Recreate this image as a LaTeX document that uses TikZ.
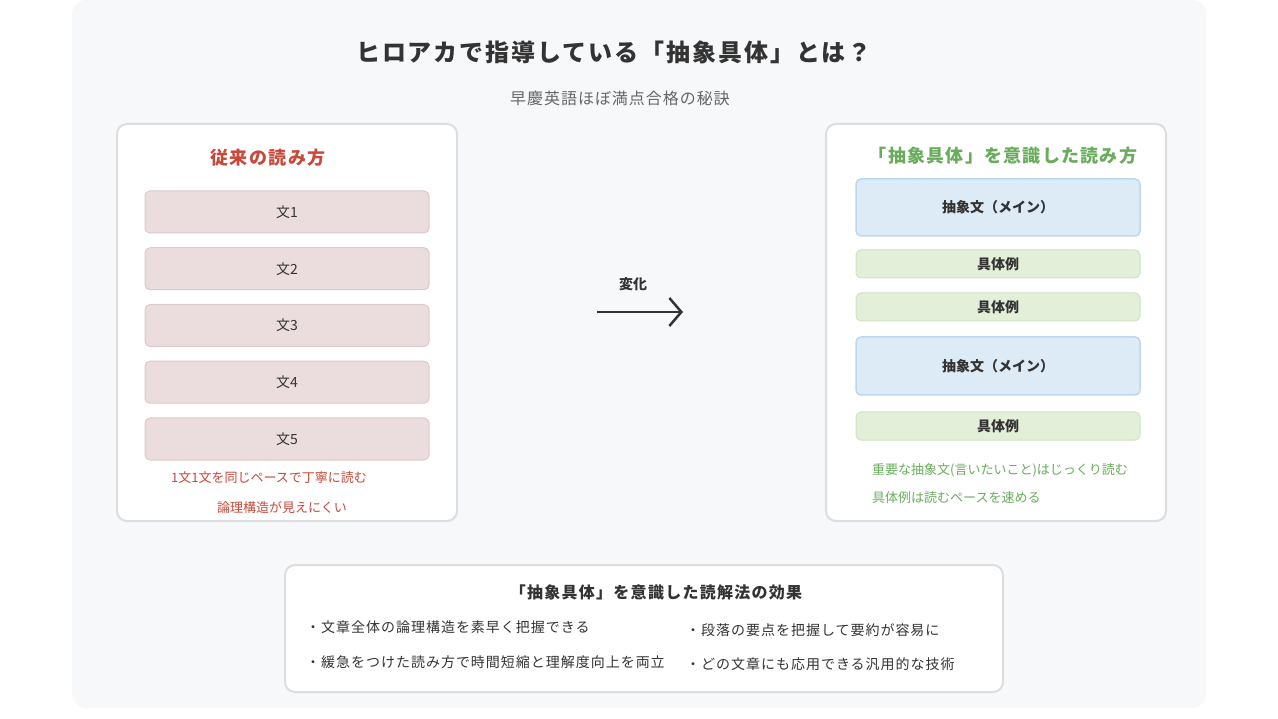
\documentclass[tikz,border=0pt]{standalone}
\usepackage{fontspec}
\setmainfont{Noto Sans CJK JP}
\usepackage{xcolor}
\usetikzlibrary{positioning,arrows.meta}
\definecolor{PageGray}{HTML}{F7F8FA}
\definecolor{PanelLine}{HTML}{DCDDDF}
\definecolor{TextDark}{HTML}{333333}
\definecolor{TextGray}{HTML}{666666}
\definecolor{OldRed}{HTML}{C9483A}
\definecolor{OldFill}{HTML}{EBDDDE}
\definecolor{OldLine}{HTML}{DCC9CB}
\definecolor{NewGreen}{HTML}{69AD5C}
\definecolor{AbsFill}{HTML}{DDEBF6}
\definecolor{AbsLine}{HTML}{BCD8EE}
\definecolor{ConFill}{HTML}{E3EFD9}
\definecolor{ConLine}{HTML}{CFE3C1}

\tikzset{
  panel/.style={draw=PanelLine, line width=2pt, fill=white, rounded corners=10pt},
  oldbox/.style={draw=OldLine, line width=1pt, fill=OldFill, rounded corners=5pt,
                 minimum width=284pt, minimum height=42pt, text=TextDark,
                 font=\fontsize{14pt}{16pt}\selectfont},
  absbox/.style={draw=AbsLine, line width=1.5pt, fill=AbsFill, rounded corners=5pt,
                 minimum width=284pt, minimum height=57pt, text=TextDark,
                 font=\fontsize{14pt}{16pt}\selectfont\bfseries},
  conbox/.style={draw=ConLine, line width=1pt, fill=ConFill, rounded corners=5pt,
                 minimum width=284pt, minimum height=28pt, text=TextDark,
                 font=\fontsize{14pt}{16pt}\selectfont\bfseries},
  note/.style={inner sep=0pt, font=\fontsize{13pt}{15pt}\selectfont},
  bullet/.style={anchor=west, inner sep=0pt, text=TextDark,
                 font=\fontsize{14pt}{16pt}\selectfont\addfontfeatures{LetterSpace=7}}
}

\begin{document}
\begin{tikzpicture}[x=1pt, y=-1pt]
  \useasboundingbox (0,0) rectangle (1278,719);
  \fill[PageGray, rounded corners=14pt] (72,0) rectangle (1206,708);

  % heading
  \node (title) at (614,52) [text=TextDark,
      font=\fontsize{24pt}{28pt}\selectfont\bfseries\addfontfeatures{LetterSpace=8}]
    {ヒロアカで指導している「抽象具体」とは？};
  \node (subtitle) at (620,98) [text=TextGray,
      font=\fontsize{16pt}{18pt}\selectfont\addfontfeatures{LetterSpace=6}]
    {早慶英語ほぼ満点合格の秘訣};

  % old way
  \draw[panel] (117,124) rectangle (457,521);
  \node (oldtitle) at (268,158) [text=OldRed,
      font=\fontsize{18pt}{20pt}\selectfont\bfseries\addfontfeatures{LetterSpace=8}]
    {従来の読み方};
  \foreach \i in {1,...,5}
    \node[oldbox] (s\i) at (287,{212+56.75*(\i-1)}) {文\i};
  \node[note, text=OldRed] (oldnoteA) at (269,478) {1文1文を同じペースで丁寧に読む};
  \node[note, text=OldRed] (oldnoteB) at (282,508) {論理構造が見えにくい};

  % change arrow
  \coordinate (arrfrom) at (597,312);
  \coordinate (arrto) at (683,312);
  \draw[TextDark, line width=2.5pt, -{Straight Barb[length=12pt, width=28pt]}] (arrfrom) -- (arrto);
  \node (change) at (633,284) [text=TextDark, font=\fontsize{14pt}{16pt}\selectfont\bfseries] {変化};

  % new way
  \draw[panel] (826,124) rectangle (1166,521);
  \node (newtitle) at (1003,156) [text=NewGreen,
      font=\fontsize{18pt}{20pt}\selectfont\bfseries\addfontfeatures{LetterSpace=7}]
    {「抽象具体」を意識した読み方};
  \node[absbox] (absA) at (998,207.5) {抽象文（メイン）};
  \node[conbox] (conA) at (998,264) {具体例};
  \node[conbox] (conB) at (998,307) {具体例};
  \node[absbox, minimum height=58pt] (absB) at (998,366) {抽象文（メイン）};
  \node[conbox] (conC) at (998,426) {具体例};
  \node[note, anchor=west, text=NewGreen] (newnoteA) at (872,470)
    {重要な抽象文(言いたいこと)はじっくり読む};
  \node[note, anchor=west, text=NewGreen] (newnoteB) at (872,498)
    {具体例は読むペースを速める};

  % effects
  \draw[panel] (285,565) rectangle (1003,692);
  \node (effecttitle) at (656,592) [text=TextDark,
      font=\fontsize{16pt}{18pt}\selectfont\bfseries\addfontfeatures{LetterSpace=8}]
    {「抽象具体」を意識した読解法の効果};
  \node[bullet] (effA) at (306,627) {・文章全体の論理構造を素早く把握できる};
  \node[bullet] (effB) at (306,662) {・緩急をつけた読み方で時間短縮と理解度向上を両立};
  \node[bullet] (effC) at (686,630) {・段落の要点を把握して要約が容易に};
  \node[bullet] (effD) at (686,664) {・どの文章にも応用できる汎用的な技術};
\end{tikzpicture}
\end{document}
